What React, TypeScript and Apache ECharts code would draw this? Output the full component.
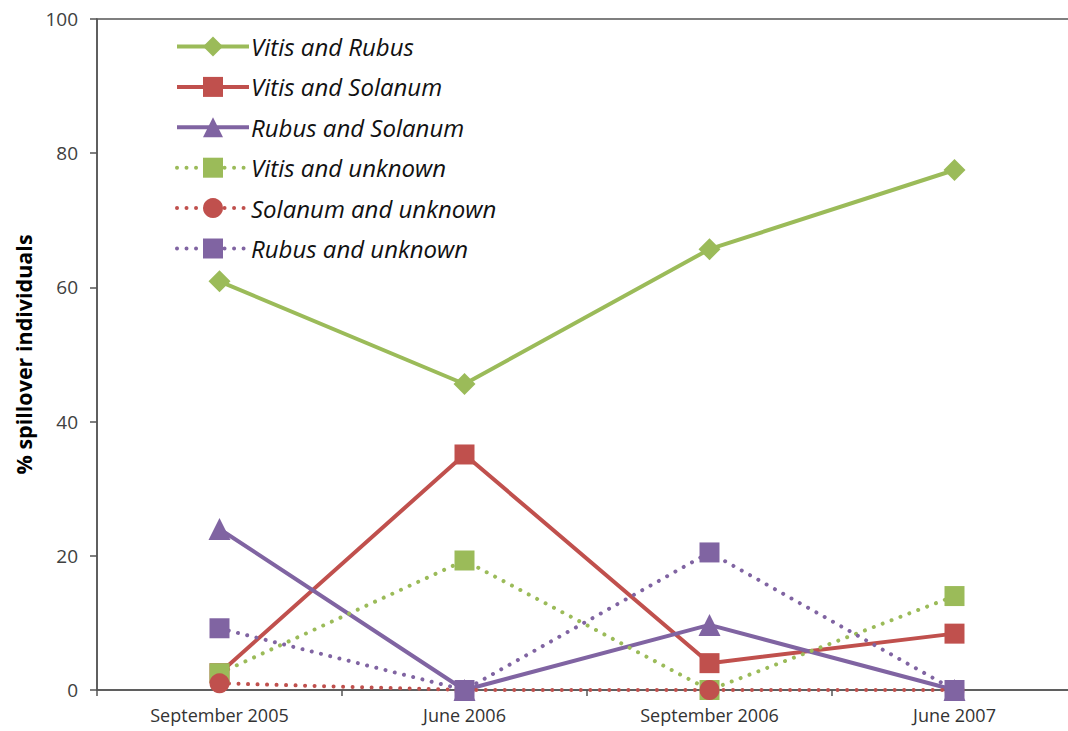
import React, { useEffect, useRef } from "react";
import * as echarts from "echarts";

const categories = ["September 2005", "June 2006", "September 2006", "June 2007"];
const vitisRubus = [60.9, 45.6, 65.7, 77.5];
const vitisSolanum = [2.5, 35.1, 4.0, 8.4];
const rubusSolanum = [24.0, 0, 9.7, 0];
const vitisUnknown = [2.5, 19.3, 0, 14.0];
const solanumUnknown = [1.0, 0, 0, 0];
const rubusUnknown = [9.2, 0, 20.5, 0];
const yTicks = { min: 0, max: 100, interval: 20 };

const GREEN = "#9BBB59";
const RED = "#C0504D";
const PURPLE = "#8064A2";

export default function App() {
  const ref = useRef<HTMLDivElement>(null);
  useEffect(() => {
    if (!ref.current) return;
    const chart = echarts.init(ref.current, null, { renderer: "svg" });
    const solid = (name: string, data: number[], color: string, symbol: string, size: number) => ({
      name,
      type: "line",
      data,
      symbol,
      symbolSize: size,
      showAllSymbol: true,
      itemStyle: { color },
      lineStyle: { color, width: 4 },
    });
    const dotted = (name: string, data: number[], color: string, symbol: string, size: number) => ({
      name,
      type: "line",
      data,
      symbol,
      symbolSize: size,
      showAllSymbol: true,
      itemStyle: { color },
      lineStyle: { color, width: 4, type: [0.01, 9.5], cap: "round" },
    });
    chart.setOption({
      animation: false,
      backgroundColor: "#fff",
      grid: {
        left: 97,
        top: 19,
        width: 980,
        height: 671,
        show: true,
        borderColor: "#555",
        borderWidth: 1.5,
        backgroundColor: "transparent",
      },
      legend: {
        orient: "vertical",
        left: 170,
        top: 29.5,
        itemWidth: 72,
        itemHeight: 25,
        itemGap: 16.4,
        lineStyle: { width: 4 },
        textStyle: {
          fontFamily: "Open Sans",
          fontStyle: "italic",
          fontSize: 24,
          lineHeight: 24,
          color: "#111",
          padding: [0, 0, 0, -3],
        },
        data: [
          "Vitis and Rubus",
          "Vitis and Solanum",
          "Rubus and Solanum",
          "Vitis and unknown",
          "Solanum and unknown",
          "Rubus and unknown",
        ],
      },
      xAxis: {
        type: "category",
        data: categories,
        boundaryGap: true,
        axisLine: { lineStyle: { color: "#555", width: 1.5 } },
        axisTick: { show: true, length: 6, lineStyle: { color: "#555", width: 1.5 } },
        axisLabel: {
          fontFamily: "Open Sans",
          fontSize: 18,
          color: "#333",
          margin: 16,
        },
      },
      yAxis: {
        type: "value",
        min: yTicks.min,
        max: yTicks.max,
        interval: yTicks.interval,
        name: "% spillover individuals",
        nameLocation: "middle",
        nameGap: 62,
        nameTextStyle: {
          fontFamily: "Open Sans",
          fontWeight: "bold",
          fontSize: 21.5,
          color: "#000",
        },
        splitLine: { show: false },
        axisLine: { show: true, lineStyle: { color: "#555", width: 1.5 } },
        axisTick: { show: true, length: 7, lineStyle: { color: "#555", width: 1.5 } },
        axisLabel: {
          fontFamily: "Open Sans",
          fontSize: 19,
          color: "#404040",
          margin: 19,
        },
      },
      series: [
        solid("Vitis and Rubus", vitisRubus, GREEN, "diamond", 22),
        solid("Vitis and Solanum", vitisSolanum, RED, "rect", 20),
        solid("Rubus and Solanum", rubusSolanum, PURPLE, "triangle", 22),
        dotted("Vitis and unknown", vitisUnknown, GREEN, "rect", 20),
        dotted("Solanum and unknown", solanumUnknown, RED, "circle", 20),
        dotted("Rubus and unknown", rubusUnknown, PURPLE, "rect", 20),
      ],
    });
    return () => chart.dispose();
  }, []);
  return (
    <div
      ref={ref}
      style={{ position: "fixed", left: 0, top: 0, width: 1090, height: 731 }}
    />
  );
}
